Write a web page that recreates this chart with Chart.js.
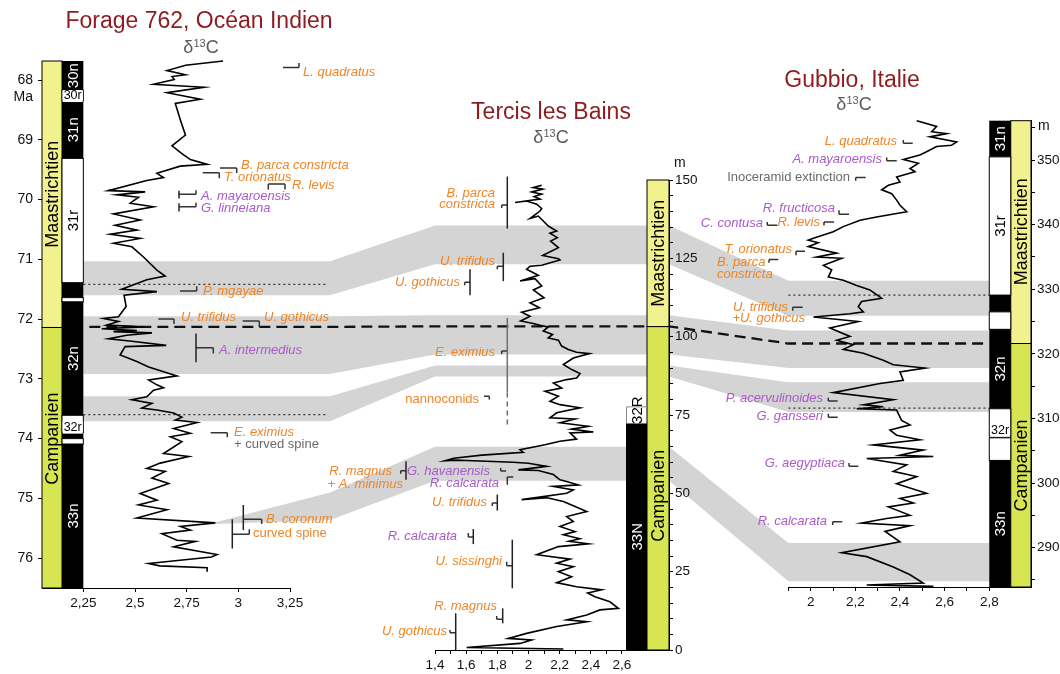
<!DOCTYPE html>
<html><head><meta charset="utf-8">
<script src="https://cdn.jsdelivr.net/npm/chart.js@4.4.0/dist/chart.umd.min.js"></script>
<style>
html,body{margin:0;padding:0;background:#fff;}
#wrap{position:relative;width:1060px;height:674px;overflow:hidden;background:#fff;}
#wrap canvas{position:absolute;left:0;top:0;}
</style></head><body>
<div id="wrap">
<canvas id="bg" width="1060" height="674"></canvas>
<canvas id="cL" width="1060" height="674"></canvas>
<canvas id="cM" width="1060" height="674"></canvas>
<canvas id="cR" width="1060" height="674"></canvas>
</div>
<script>
// ================= DATA =================
// --- Forage 762 (Indian Ocean): d13C vs age (Ma)
const leftC13 = [2.926,2.745,2.655,2.744,2.679,2.69,2.59,2.833,2.655,2.816,2.695,2.72,2.744,2.679,2.727,2.768,2.849,2.719,2.606,2.638,2.557,2.371,2.549,2.412,2.517,2.477,2.59,2.396,2.525,2.404,2.509,2.38,2.525,2.396,2.485,2.541,2.606,2.646,2.557,2.436,2.606,2.447,2.457,2.42,2.347,2.42,2.363,2.541,2.339,2.509,2.396,2.582,2.46,2.371,2.485,2.651,2.452,2.428,2.509,2.566,2.703,2.566,2.606,2.638,2.59,2.557,2.485,2.582,2.533,2.606,2.687,2.727,2.695,2.80,2.687,2.768,2.671,2.727,2.638,2.76,2.622,2.557,2.646,2.582,2.663,2.525,2.606,2.517,2.655,2.509,2.889,2.72,2.768,2.63,2.703,2.792,2.687,2.897,2.87,2.566,2.62,2.849,2.849];
const leftAge = [67.68,67.75,67.84,67.91,67.94,67.99,68.07,68.12,68.21,68.32,68.39,68.67,68.92,69.10,69.23,69.33,69.41,69.44,69.56,69.63,69.68,69.85,69.87,69.92,69.96,70.06,70.12,70.24,70.34,70.43,70.51,70.58,70.65,70.73,70.79,70.96,71.18,71.28,71.34,71.50,71.54,71.60,71.79,71.96,71.99,72.04,72.10,72.13,72.16,72.19,72.21,72.23,72.27,72.33,72.37,72.44,72.46,72.60,72.71,72.80,72.95,73.02,73.10,73.15,73.19,73.30,73.35,73.41,73.49,73.52,73.57,73.64,73.69,73.73,73.83,73.91,73.97,74.05,74.25,74.30,74.41,74.50,74.55,74.66,74.75,74.92,75.03,75.11,75.19,75.33,75.41,75.47,75.53,75.59,75.70,75.72,75.81,75.94,75.98,76.09,76.13,76.16,76.23];
const leftXTicks = [2.25,2.5,2.75,3,3.25];
const leftYTicks = [68,69,70,71,72,73,74,75,76];

// --- Tercis les Bains: d13C vs height (m)
const midC13 = [2.085,2.031,2.091,2.021,2.085,2.036,2.074,1.914,1.988,2.053,2.085,2.074,2.010,2.063,2.095,2.127,2.181,2.138,2.185,2.142,2.192,2.091,2.192,2.202,2.085,2.010,1.988,2.063,1.946,2.042,2.085,2.031,2.100,2.010,2.070,1.956,2.010,1.950,2.031,2.074,2.127,2.095,2.155,2.127,2.192,2.213,2.256,2.309,2.391,2.288,2.224,2.277,2.331,2.309,2.245,2.160,2.213,2.106,2.192,2.138,2.202,2.331,2.181,2.138,2.299,2.202,2.384,2.277,2.416,2.267,2.309,2.202,2.106,1.946,1.967,1.70,1.52,1.464,1.53,1.60,1.90,2.00,2.117,1.935,2.063,2.160,2.202,2.245,2.320,2.160,2.288,2.245,1.956,2.12,2.224,2.299,2.374,2.245,2.288,2.202,2.299,2.224,2.33,2.26,2.384,2.192,2.053,2.267,2.181,2.288,2.192,2.277,2.181,2.309,2.470,2.38,2.427,2.523,2.577,2.459,2.374,2.245,2.374,2.181,1.988,1.871,2.020,1.946,1.603,2.224];
const midHeight = [148.3,147.6,147.1,146.2,145.5,144.7,143.9,142.8,143.3,142.3,140.9,140.1,137.7,138.5,136.9,135.3,133.7,133.0,131.6,130.5,128.4,125.9,124.9,124.5,122.8,122.5,121.5,119.6,117.8,118.5,116.2,114.9,112.4,110.8,109.2,107.8,106.5,105.0,104.2,103.6,103.1,101.8,100.7,99.6,98.9,97.0,95.9,95.0,94.6,93.2,91.1,89.5,88.2,86.8,86.3,85.2,83.6,82.6,81.0,79.4,78.3,77.3,75.7,74.1,73.7,72.5,71.4,70.5,69.6,69.3,67.3,66.6,65.5,63.9,63.1,62.2,61.2,60.4,60.6,60.5,59.9,59.6,58.6,57.5,57.3,56.0,54.3,53.8,52.7,52.2,51.1,50.0,48.0,48.6,47.4,45.8,44.2,42.6,41.0,39.4,37.8,36.8,35.5,34.7,33.9,33.0,30.4,29.0,27.7,26.6,25.0,23.4,21.5,20.2,19.2,18.2,17.0,15.4,13.3,12.8,11.2,9.6,9.0,7.5,5.3,3.7,3.2,2.1,0.8,0.3];
const midXTicks = [1.4,1.5,1.6,1.7,1.8,1.9,2.0,2.1,2.2,2.3,2.4,2.5,2.6];
const midYTicks = [0,5,10,15,20,25,30,35,40,45,50,55,60,65,70,75,80,85,90,95,100,105,110,115,120,125,130,135,140,145,150];

// --- Gubbio: d13C vs height (m)
const rightC13 = [2.475,2.564,2.542,2.609,2.534,2.654,2.631,2.564,2.519,2.489,2.415,2.482,2.445,2.467,2.385,2.400,2.348,2.318,2.363,2.385,2.400,2.430,2.295,2.221,2.146,2.101,2.012,1.989,2.034,1.989,2.116,2.027,2.139,2.057,2.094,2.079,2.146,2.206,2.265,2.318,2.228,2.213,2.236,2.176,2.012,2.213,2.086,2.176,2.116,2.191,2.146,2.236,2.325,2.370,2.512,2.400,2.415,2.310,2.101,2.370,2.236,2.325,2.206,2.385,2.407,2.445,2.355,2.385,2.489,2.280,2.504,2.400,2.549,2.251,2.430,2.370,2.475,2.385,2.519,2.400,2.460,2.348,2.445,2.340,2.228,2.445,2.333,2.400,2.139,2.251,2.370,2.445,2.504,2.251,2.55];
const rightHeight = [356.1,355.2,354.4,354.1,353.6,352.8,352.3,352.1,351.3,350.8,350.1,349.5,348.7,348.2,347.4,346.6,346.1,345.4,344.8,343.8,343.0,342.0,341.2,340.7,339.7,338.9,337.9,337.6,337.2,336.6,335.6,335.0,334.8,333.7,333.0,331.9,331.4,330.6,329.9,328.6,328.1,327.3,326.5,326.2,325.7,325.0,324.0,322.7,322.1,321.4,320.7,320.1,319.0,318.3,317.8,317.2,315.9,315.4,314.0,312.9,312.1,311.8,311.5,311.3,309.7,309.0,308.2,307.4,306.7,305.9,305.1,304.3,304.1,303.8,302.8,301.8,301.0,299.9,298.4,297.6,296.9,296.3,295.0,294.5,293.8,293.4,292.5,290.9,289.2,288.6,287.0,285.8,284.5,284.2,284.0];
const rightXTicks = [1.9,2.0,2.1,2.2,2.3,2.4,2.5,2.6,2.7,2.8];
const rightYTicks = [285,290,295,300,305,310,315,320,325,330,335,340,345,350,355];

// --- Stages
const stageNames = ['Maastrichtien','Campanien'];
const stageL = [[67.68,72.14],[72.14,76.5]];
const stageM = [[150,103.2],[103.2,0]];
const stageR = [[356.1,321.6],[321.6,283.9]];
const stageLabelL = [69.91,74.0];
const stageLabelM = [126.6,49.2];
const stageLabelR = [338.9,302.7];

// --- Magnetic polarity
const polL = [[67.68,68.17],[68.17,68.35],[68.35,69.31],[69.31,71.39],[71.39,71.64],[71.64,71.71],[71.71,73.61],[73.61,73.90],[73.90,74.00],[74.00,74.09],[74.09,76.5]];
const polTypeL = ['n','r','n','r','n','r','n','r','n','r','n'];
const polNameL = ['30n','30r','31n','31r','','','32n','32r','','','33n'];
const polM = [[77.6,72.3],[72.3,0]];
const polTypeM = ['o','n'];
const polNameM = ['32R','33N'];
const polR = [[356.1,350.5],[350.5,329.1],[329.1,326.5],[326.5,323.8],[323.8,311.5],[311.5,307.3],[307.3,307.0],[307.0,303.5],[303.5,283.9]];
const polTypeR = ['n','r','n','r','n','r','n','r','n'];
const polNameR = ['31n','31r','','','32n','32r','','','33n'];

// --- Biostratigraphic datums
const bioNamesL = ['L. quadratus','B. parca constricta','T. orionatus','R. levis','A. mayaroensis','G. linneiana','P. mgayae','U. trifidus','U. gothicus','A. intermedius','E. eximius|+ curved spine','B. coronum','curved spine'];
const bioLevelL = [67.79,69.47,69.55,69.74,69.91,70.12,71.53,72.00,72.03,72.48,73.90,75.35,75.60];
const bioRangeL = [null,null,null,null,[69.85,69.98],[70.06,70.20],null,null,null,[72.24,72.72],null,[75.11,75.53],[75.35,75.84]];
const bioNamesM = ['B. parca|constricta','U. trifidus','U. gothicus','E. eximius','nannoconids','R. magnus|+ A. minimus','G. havanensis','R. calcarata','U. trifidus','R. calcarata','U. sissinghi','R. magnus','U. gothicus'];
const bioLevelM = [142.0,122.5,117.4,95.4,81.0,57.2,57.1,55.2,46.9,36.1,26.9,9.8,5.5];
const bioRangeM = [[151.1,134.5],[126.8,117.7],[121.5,113.2],[106.0,82.2],null,[60.2,54.3],null,null,[49.6,44.5],[38.6,33.8],[35.2,19.7],[13.3,8.5],[11.7,0]];
const bioDashM = [null,null,null,[82.2,71.3],null,null,null,null,null,null,null,null,null];
const bioNamesR = ['L. quadratus','A. mayaroensis','Inoceramid extinction','R. fructicosa','R. levis','C. contusa','T. orionatus','B. parca|constricta','U. trifidus|+U. gothicus','P. acervulinoides','G. gansseri','G. aegyptiaca','R. calcarata'];
const bioLevelR = [352.6,349.9,347.3,341.6,340.4,339.9,335.9,334.6,327.2,312.7,310.2,302.6,294.0];
const bioRangeR = [null,null,null,null,null,null,null,null,null,null,null,null,null];

// --- Correlation bands (top/bottom in each section's units)
const bandStartC13L = [2.25,2.25,2.25,2.89];
const bandTopL0 = [71.03,71.95,73.29,75.40];
const bandBotL0 = [71.60,72.92,73.71,75.43];
const bandTopL1 = [71.03,71.95,73.29,74.90];
const bandBotL1 = [71.60,72.92,73.71,75.36];
const bandTopM = [135.5,106.8,90.8,64.9];
const bandBotM = [123.1,94.3,87.3,54.0];
const bandTopR = [331.3,323.6,315.6,290.7];
const bandBotR = [325.9,317.8,311.0,284.8];
const boundaryLMR = [72.13,103.3,321.6];
const dottedL = [71.42,73.60];
const dottedR = [329.1,311.6];

// ================= STYLE / LAYOUT =================
const FONT = '"Liberation Sans", Arial, Helvetica, sans-serif';
const ORANGE = '#ee8526', PURPLE = '#a95ac8', GREY = '#6a6a6a', TITLE = '#8c1c1f';
const STAGE_COL = ['#f1f18e','#d8e553'];
const BAND = '#d4d4d4';
const STY = {oi:[ORANGE,true], o:[ORANGE,false], pi:[PURPLE,true], g:[GREY,false]};

// marker geometry: [x1, x2, hooks[[x,len]], labelX (or per line), align, dy per line, rangeX]
const bioGeoL = [
 [283,299,[[299,-4.6]],303,'left',[5]],
 [220,236.7,[[236.7,5]],241,'left',[-2.7]],
 [202.7,219.3,[[219.3,5.6]],224,'left',[4.6]],
 [268.3,285,[[268.3,5.3],[285,5.3]],292,'left',[1.7]],
 [179,196,[[196,-4]],201,'left',[1.7],179],
 [179,196,[[196,-4]],201,'left',[1.6],179],
 [180,196.7,[[196.7,-4.7]],203,'left',[0]],
 [158.3,174,[[174,5]],181,'left',[-1.7]],
 [242.7,259.3,[[259.3,6]],264,'left',[-3.4]],
 [196,213.3,[[213.3,5.6]],219,'left',[3],196],
 [210.7,227.3,[[227.3,4.6]],234,'left',[0,11.5]],
 [243.3,261.7,[[261.7,4.7]],266,'left',[0],243.3],
 [232.3,249.3,[[249.3,-5]],253,'left',[-1.3],232.3]
];
const bioStyL = [['oi'],['oi'],['oi'],['oi'],['pi'],['pi'],['oi'],['oi'],['oi'],['pi'],['oi','g'],['oi'],['o']];
const bioGeoM = [
 [501.7,507.3,[[501.7,3]],495,'right',[-11.7,-1],507.3],
 [497.3,503.3,[[497.3,3]],495,'right',[-5],503.3],
 [464.7,470,[[464.7,3]],460,'right',[0.6],470],
 [501.7,507.3,[[501.7,3]],495,'right',[1],507.3],
 [484,489.3,[[489.3,3.3]],479,'right',[3.3]],
 [400.7,406,[[400.7,3]],[392,403],'right',[0.7,14],406],
 [500.7,506,[[500.7,-3]],490,'right',[0]],
 [507.3,513.3,[[507.3,7.7]],499,'right',[6.7]],
 [492.3,497.3,[[492.3,3]],487,'right',[-0.6],497.3],
 [468.3,473.3,[[468.3,-4]],457,'right',[-0.3],473.3],
 [506.7,512.3,[[506.7,-4]],502,'right',[-4.3],512.3],
 [496.7,502.7,[[496.7,-3.3]],497,'right',[-12.6],502.7],
 [450,455.7,[[450,-2.7]],447,'right',[-1],455.7]
];
const bioStyM = [['oi','oi'],['oi'],['oi'],['oi'],['o'],['oi','oi'],['pi'],['pi'],['oi'],['pi'],['oi'],['oi'],['oi']];
const bioGeoR = [
 [903.3,912.7,[[903.3,-3.3]],897,'right',[-1.6]],
 [886.7,896.7,[[886.7,-3.3]],882,'right',[-1.4]],
 [855.7,865.7,[[855.7,3.3]],850,'right',[0]],
 [839,849,[[839,-4]],835,'right',[-5.7]],
 [824,834,[[824,3.3]],820,'right',[0.6]],
 [767.3,777.3,[[767.3,-3.3]],763,'right',[-1.7]],
 [796,805,[[796,4]],792,'right',[-1.7]],
 [769,778.3,[[769,3.3]],[717,717],'left',[2.4,15]],
 [792.7,802.7,[[792.7,3.3]],[788,805],'right',[0,11]],
 [828.3,837.7,[[828.3,-3.3]],823,'right',[-2.7]],
 [828.3,837.7,[[828.3,-3.3]],823,'right',[-0.6]],
 [849,858.3,[[849,-3.3]],845,'right',[-3.3]],
 [832.7,842.3,[[832.7,3.3]],827,'right',[-0.7]]
];
const bioStyR = [['oi'],['pi'],['g'],['pi'],['oi'],['pi'],['oi'],['oi','oi'],['oi','oi'],['pi'],['pi'],['pi'],['pi']];

// ================= HELPERS =================
const comma = v => String(Math.round(v*100)/100).replace('.', ',');
function txt(ctx, s, x, y, size, color, italic, align, base){
  ctx.font = (italic?'italic ':'') + size + 'px ' + FONT;
  ctx.fillStyle = color; ctx.textAlign = align || 'left'; ctx.textBaseline = base || 'middle';
  ctx.fillText(s, x, y);
}
function rotTxt(ctx, s, x, y, size, color){
  ctx.save(); ctx.translate(x, y); ctx.rotate(-Math.PI/2);
  txt(ctx, s, 0, 1, size, color, false, 'center', 'middle'); ctx.restore();
}
function delta13(ctx, cx, cy){
  ctx.font = '18px ' + FONT; const w1 = ctx.measureText('δ').width, w3 = ctx.measureText('C').width;
  ctx.font = '11px ' + FONT; const w2 = ctx.measureText('13').width;
  let x = cx - (w1+w2+w3)/2;
  txt(ctx,'δ',x,cy,18,'#5a5a5a',false,'left','middle'); x += w1;
  txt(ctx,'13',x,cy-4,11,'#5a5a5a',false,'left','middle'); x += w2;
  txt(ctx,'C',x,cy,18,'#5a5a5a',false,'left','middle');
}

function drawColumns(chart, P){
  const ctx = chart.ctx, ys = chart.scales.y;
  const [sx0, sx1] = P.stageX(chart), [px0, px1] = P.polX(chart);
  ctx.save();
  ctx.lineWidth = 1; ctx.strokeStyle = '#000';
  P.stages.forEach((iv, i) => {
    const a = ys.getPixelForValue(iv[0]), b = ys.getPixelForValue(iv[1]);
    const t = Math.min(a,b), h = Math.abs(b-a);
    ctx.fillStyle = STAGE_COL[i]; ctx.fillRect(sx0, t, sx1-sx0, h);
    ctx.strokeRect(sx0, t, sx1-sx0, h);
    rotTxt(ctx, stageNames[i], (sx0+sx1)/2, ys.getPixelForValue(P.stageLabel[i]), 18, '#000');
  });
  P.pol.forEach((iv, i) => {
    const a = ys.getPixelForValue(iv[0]), b = ys.getPixelForValue(iv[1]);
    const t = Math.min(a,b), h = Math.abs(b-a), ty = P.polType[i];
    if (ty === 'n') { ctx.fillStyle = '#000'; ctx.fillRect(px0, t, px1-px0, h); }
    else if (ty === 'r') { ctx.fillStyle = '#fff'; ctx.fillRect(px0, t, px1-px0, h); ctx.strokeStyle='#000'; ctx.strokeRect(px0, t, px1-px0, h); }
    else { ctx.strokeStyle = '#8a8a8a'; ctx.beginPath(); ctx.moveTo(px0+0.5, t+h); ctx.lineTo(px0+0.5, t); ctx.lineTo(px1, t); ctx.stroke(); }
  });
  P.pol.forEach((iv, i) => {
    const nm = P.polName[i]; if (!nm) return;
    const a = ys.getPixelForValue(iv[0]), b = ys.getPixelForValue(iv[1]);
    const h = Math.abs(b-a), cx = (px0+px1)/2, ty = P.polType[i];
    if (h < 32 && ty === 'r') {
      const bot = Math.max(a,b) + 1;
      ctx.font = '12.5px ' + FONT; const w = ctx.measureText(nm).width;
      ctx.fillStyle = '#fff'; ctx.fillRect(cx - w/2 - 1, bot - 12, w + 2, 12);
      txt(ctx, nm, cx, bot, 12.5, '#000', false, 'center', 'bottom');
    } else {
      rotTxt(ctx, nm, cx, (a+b)/2 + (ty==='o' ? -5 : 0), 15, ty === 'n' ? '#fff' : '#000');
    }
  });
  ctx.restore();
}

function drawMarkers(chart, P){
  const ctx = chart.ctx, ys = chart.scales.y;
  ctx.save();
  P.bioNames.forEach((name, i) => {
    const g = P.bioGeo[i], yl = ys.getPixelForValue(P.bioLevel[i]);
    ctx.strokeStyle = '#333'; ctx.lineWidth = 1.5; ctx.setLineDash([]);
    ctx.beginPath(); ctx.moveTo(g[0], yl); ctx.lineTo(g[1], yl);
    g[2].forEach(hk => { ctx.moveTo(hk[0], yl); ctx.lineTo(hk[0], yl + hk[1]); });
    ctx.stroke();
    const r = P.bioRange[i];
    if (r) {
      ctx.strokeStyle = (P.bioDash && P.bioDash[i]) ? '#6f6f6f' : '#222';
      ctx.beginPath(); ctx.moveTo(g[6], ys.getPixelForValue(r[0])); ctx.lineTo(g[6], ys.getPixelForValue(r[1])); ctx.stroke();
    }
    if (P.bioDash && P.bioDash[i]) {
      const d = P.bioDash[i]; ctx.setLineDash([5,4]); ctx.strokeStyle = '#6f6f6f';
      ctx.beginPath(); ctx.moveTo(g[6], ys.getPixelForValue(d[0])); ctx.lineTo(g[6], ys.getPixelForValue(d[1])); ctx.stroke();
      ctx.setLineDash([]);
    }
    name.split('|').forEach((line, k) => {
      const st = STY[P.bioSty[i][k]];
      const lx = Array.isArray(g[3]) ? g[3][k] : g[3];
      txt(ctx, line, lx, yl + g[5][k], 13, st[0], st[1], g[4], 'middle');
    });
  });
  ctx.restore();
}

function panelPlugin(P){
  return {
    id: 'panel' + P.key,
    beforeDatasetsDraw(chart){ drawColumns(chart, P); },
    afterDatasetsDraw(chart){
      drawMarkers(chart, P);
      const ctx = chart.ctx;
      txt(ctx, P.title[0], P.title[1], P.title[2], 23, TITLE, false, 'center', 'middle');
      delta13(ctx, P.delta[0], P.delta[1]);
      txt(ctx, P.unit[0], P.unit[1], P.unit[2], 14, '#111', false, P.unit[3], 'middle');
    }
  };
}

function makeChart(id, P){
  const pts = P.c13.map((v, i) => ({x: v, y: P.depth[i]}));
  const grid = {display:true, drawOnChartArea:false, drawTicks:true, tickLength:4, color:'#000', lineWidth:1};
  return new Chart(document.getElementById(id), {
    type: 'scatter',
    data: {datasets: [{data: pts, showLine: true, borderColor: '#000', borderWidth: 1.6, pointRadius: 0, tension: 0, fill: false, clip: false}]},
    options: {
      responsive: false, animation: false, devicePixelRatio: 1, events: [],
      layout: {padding: P.padding},
      plugins: {legend: {display: false}, tooltip: {enabled: false}},
      scales: {
        x: {type: 'linear', position: 'bottom', min: P.xMin, max: P.xMax,
            afterBuildTicks: s => { s.ticks = P.xTicks.map(v => ({value: v})); },
            afterFit: s => { s.height = P.xH; },
            grid: grid, border: {display: true, color: '#000', width: 1},
            ticks: {autoSkip: false, maxRotation: 0, minRotation: 0, padding: 3, color: '#111',
                    font: {family: FONT, size: 13.5}, callback: v => P.xLabel(v)}},
        y: {type: 'linear', position: P.yPos, min: P.yMin, max: P.yMax, reverse: P.reverse,
            afterBuildTicks: s => { s.ticks = P.yTicks.map(v => ({value: v})); },
            afterFit: s => { s.width = P.yW; },
            grid: grid, border: {display: true, color: '#000', width: 1},
            ticks: {autoSkip: false, padding: P.yPad, color: '#111',
                    font: {family: FONT, size: P.ySize}, callback: v => P.yLabel(v)}}
      }
    },
    plugins: [panelPlugin(P)]
  });
}

// ================= PANELS =================
const PL = {
  key:'L', c13:leftC13, depth:leftAge, xMin:2.05, xMax:3.25, yMin:67.68, yMax:76.5, reverse:true, yPos:'left',
  xTicks:leftXTicks, yTicks:leftYTicks, xLabel:comma, yLabel:v=>String(v), xH:30, yW:30, yPad:5, ySize:14,
  padding:{left:12, right:770, top:61, bottom:56},
  stages:stageL, stageLabel:stageLabelL, pol:polL, polType:polTypeL, polName:polNameL,
  stageX:c=>[c.chartArea.left, c.chartArea.left+20], polX:c=>[c.chartArea.left+20, c.scales.x.getPixelForValue(2.25)],
  bioNames:bioNamesL, bioLevel:bioLevelL, bioRange:bioRangeL, bioGeo:bioGeoL, bioSty:bioStyL,
  title:['Forage 762, Océan Indien',199,22], delta:[201,48], unit:['Ma',33,97,'right']
};
const PM = {
  key:'M', c13:midC13, depth:midHeight, xMin:1.4, xMax:2.902, yMin:0, yMax:150, reverse:false, yPos:'right',
  xTicks:midXTicks, yTicks:midYTicks, xLabel:v=>(Math.round(v*10)%2===0?comma(v):''), yLabel:v=>(v%25===0?String(v):''),
  xH:24, yW:30, yPad:2, ySize:13.5,
  padding:{left:435, right:361, top:180, bottom:0},
  stages:stageM, stageLabel:stageLabelM, pol:polM, polType:polTypeM, polName:polNameM,
  stageX:c=>[c.chartArea.right-22, c.chartArea.right], polX:c=>[c.chartArea.right-43, c.chartArea.right-22],
  bioNames:bioNamesM, bioLevel:bioLevelM, bioRange:bioRangeM, bioDash:bioDashM, bioGeo:bioGeoM, bioSty:bioStyM,
  title:['Tercis les Bains',551,113], delta:[551,138], unit:['m',674,163,'left']
};
const PR = {
  key:'R', c13:rightC13, depth:rightHeight, xMin:1.9, xMax:2.987, yMin:283.9, yMax:356.1, reverse:false, yPos:'right',
  xTicks:rightXTicks, yTicks:rightYTicks, xLabel:v=>(Math.round(v*10)%2===0?comma(v):''), yLabel:v=>(v%10===0?String(v):''),
  xH:30, yW:29, yPad:2, ySize:13.5,
  padding:{left:788.4, right:0, top:120.7, bottom:57},
  stages:stageR, stageLabel:stageLabelR, pol:polR, polType:polTypeR, polName:polNameR,
  stageX:c=>[c.scales.x.getPixelForValue(2.8)+21.5, c.chartArea.right], polX:c=>[c.scales.x.getPixelForValue(2.8), c.scales.x.getPixelForValue(2.8)+21.5],
  bioNames:bioNamesR, bioLevel:bioLevelR, bioRange:bioRangeR, bioGeo:bioGeoR, bioSty:bioStyR,
  title:['Gubbio, Italie',852,81], delta:[854,105], unit:['m',1038,126,'left']
};

const chL = makeChart('cL', PL);
const chM = makeChart('cM', PM);
const chR = makeChart('cR', PR);

// ================= CORRELATION BANDS (background) =================
(function drawBackground(){
  const ctx = document.getElementById('bg').getContext('2d');
  const yL = v => chL.scales.y.getPixelForValue(v), yM = v => chM.scales.y.getPixelForValue(v), yR = v => chR.scales.y.getPixelForValue(v);
  const xL0 = chL.scales.x.getPixelForValue(2.25), xK = chL.chartArea.right + 40;
  const xM0 = chM.chartArea.left, xM1 = chM.chartArea.right, xR0 = chR.chartArea.left, xR1 = chR.scales.x.getPixelForValue(2.8);
  ctx.fillStyle = BAND;
  bandTopM.forEach((_, i) => {
    const xs = chL.scales.x.getPixelForValue(bandStartC13L[i]);
    ctx.beginPath();
    ctx.moveTo(xs, yL(bandTopL0[i])); ctx.lineTo(xK, yL(bandTopL1[i]));
    ctx.lineTo(xM0, yM(bandTopM[i])); ctx.lineTo(xM1, yM(bandTopM[i]));
    ctx.lineTo(xR0, yR(bandTopR[i])); ctx.lineTo(xR1, yR(bandTopR[i]));
    ctx.lineTo(xR1, yR(bandBotR[i])); ctx.lineTo(xR0, yR(bandBotR[i]));
    ctx.lineTo(xM1, yM(bandBotM[i])); ctx.lineTo(xM0, yM(bandBotM[i]));
    ctx.lineTo(xK, yL(bandBotL1[i])); ctx.lineTo(xs, yL(bandBotL0[i]));
    ctx.closePath(); ctx.fill();
  });
  // stage boundary (dashed)
  ctx.strokeStyle = '#111'; ctx.lineWidth = 2.3; ctx.setLineDash([11,6]);
  ctx.beginPath();
  ctx.moveTo(xL0 + 6, yL(boundaryLMR[0])); ctx.lineTo(xK, yL(boundaryLMR[0]));
  ctx.lineTo(xM0, yM(boundaryLMR[1])); ctx.lineTo(xM1, yM(boundaryLMR[1]));
  ctx.lineTo(xR0, yR(boundaryLMR[2])); ctx.lineTo(xR1, yR(boundaryLMR[2]));
  ctx.stroke();
  // dotted lines
  ctx.strokeStyle = '#333'; ctx.lineWidth = 1.2; ctx.setLineDash([2,3]);
  dottedL.forEach(v => { ctx.beginPath(); ctx.moveTo(xL0, yL(v)); ctx.lineTo(xK - 2, yL(v)); ctx.stroke(); });
  dottedR.forEach(v => { ctx.beginPath(); ctx.moveTo(xR0, yR(v)); ctx.lineTo(xR1, yR(v)); ctx.stroke(); });
  ctx.setLineDash([]);
})();
</script>
</body></html>
